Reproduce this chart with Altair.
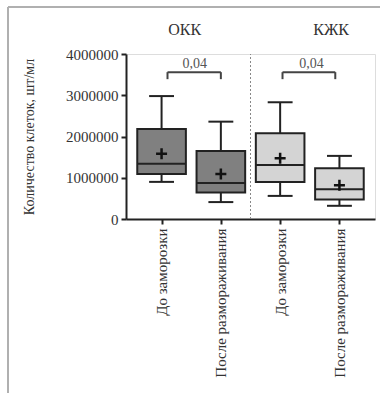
import altair as alt
import pandas as pd

# ---- data ----
positions = [1, 2, 3, 4]
x_labels = ["До заморозки", "После размораживания", "До заморозки", "После размораживания"]
groups = ["ОКК", "ОКК", "КЖК", "КЖК"]
whisker_low = [900000, 410000, 560000, 320000]
q1 = [1090000, 640000, 900000, 470000]
median = [1340000, 870000, 1310000, 720000]
q3 = [2180000, 1650000, 2080000, 1230000]
whisker_high = [2980000, 2360000, 2830000, 1530000]
means = [1580000, 1090000, 1470000, 820000]

group_names = ["ОКК", "КЖК"]
group_title_x = [1.39, 3.86]
group_title_y = [4580000, 4580000]

p_labels = ["0,04", "0,04"]
bracket_left = [1.1, 3.04]
bracket_right = [2.0, 3.93]
bracket_top = [3560000, 3560000]
bracket_bottom = [3390000, 3390000]
p_label_x = [1.56, 3.53]
p_label_y = [3760000, 3760000]

separator_x = [2.5]

BOX_HALF = 0.41
CAP_HALF = 0.21
FONT = "Liberation Serif"

boxes = pd.DataFrame({
    "pos": positions, "label": x_labels, "group": groups,
    "lo": whisker_low, "q1": q1, "med": median, "q3": q3, "hi": whisker_high, "mean": means,
})
boxes["bx1"] = boxes["pos"] - BOX_HALF
boxes["bx2"] = boxes["pos"] + BOX_HALF
boxes["cx1"] = boxes["pos"] - CAP_HALF
boxes["cx2"] = boxes["pos"] + CAP_HALF

titles = pd.DataFrame({"name": group_names, "x": group_title_x, "y": group_title_y})
brackets = pd.DataFrame({
    "label": p_labels, "l": bracket_left, "r": bracket_right,
    "top": bracket_top, "bot": bracket_bottom, "lx": p_label_x, "ly": p_label_y,
})
sep = pd.DataFrame({"x": separator_x, "y0": [0], "y1": [4000000]})

label_expr = ("datum.value == 1 ? 'До заморозки' : datum.value == 2 ? 'После размораживания' : "
              "datum.value == 3 ? 'До заморозки' : datum.value == 4 ? 'После размораживания' : ''")

xscale = alt.Scale(domain=[0.4, 4.6], nice=False, zero=False)
yscale = alt.Scale(domain=[0, 4000000], nice=False)

x_axis = alt.Axis(
    values=positions, labelExpr=label_expr, labelAngle=270, labelAlign="right",
    labelBaseline="middle", labelFont=FONT, labelFontSize=15, labelColor="#333333",
    labelPadding=4, tickSize=5, tickWidth=2, tickColor="#222222",
    domainWidth=2, domainColor="#222222", grid=False, title=None, labelOverlap=False,
)
y_axis = alt.Axis(
    values=[0, 1000000, 2000000, 3000000, 4000000], format="d",
    labelFont=FONT, labelFontSize=15, labelColor="#333333", labelPadding=3,
    tickSize=5, tickWidth=2, tickColor="#222222", domainWidth=2, domainColor="#222222",
    grid=False, title="Количество клеток, шт/мл", titleFont=FONT, titleFontSize=14,
    titleFontWeight="normal", titleColor="#333333", titleAngle=270, titleX=-97, titleY=82.5,
    titleAlign="center", titleBaseline="middle",
)

base = alt.Chart(boxes)

axes_layer = base.mark_point(opacity=0).encode(
    x=alt.X("pos:Q", scale=xscale, axis=x_axis),
    y=alt.Y("med:Q", scale=yscale, axis=y_axis),
)

whisk_up = base.mark_rule(color="#222222", strokeWidth=2).encode(
    x="pos:Q", y="q3:Q", y2="hi:Q")
whisk_down = base.mark_rule(color="#222222", strokeWidth=2).encode(
    x="pos:Q", y="lo:Q", y2="q1:Q")
cap_up = base.mark_rule(color="#222222", strokeWidth=2).encode(
    x="cx1:Q", x2="cx2:Q", y="hi:Q")
cap_down = base.mark_rule(color="#222222", strokeWidth=2).encode(
    x="cx1:Q", x2="cx2:Q", y="lo:Q")

box = base.mark_bar(stroke="#222222", strokeWidth=2).encode(
    x="bx1:Q", x2="bx2:Q", y="q1:Q", y2="q3:Q",
    fill=alt.Fill("group:N", scale=alt.Scale(domain=["ОКК", "КЖК"], range=["#808080", "#d4d4d4"]),
                  legend=None),
)
med_line = base.mark_rule(color="#222222", strokeWidth=2).encode(
    x="bx1:Q", x2="bx2:Q", y="med:Q")
mean_pt = base.mark_point(shape="M-1,0L1,0M0,-1L0,1", size=121, strokeWidth=2.5,
                          color="#111111", filled=False, opacity=1).encode(x="pos:Q", y="mean:Q")

separator = alt.Chart(sep).mark_rule(color="#888888", strokeWidth=1, strokeDash=[2, 2]).encode(
    x="x:Q", y="y0:Q", y2="y1:Q")

group_text = alt.Chart(titles).mark_text(font=FONT, fontSize=16, color="#333333",
                                         baseline="middle", align="center").encode(
    x="x:Q", y="y:Q", text="name:N")

bk = alt.Chart(brackets)
bracket_h = bk.mark_rule(color="#444444", strokeWidth=2).encode(x="l:Q", x2="r:Q", y="top:Q")
bracket_l = bk.mark_rule(color="#444444", strokeWidth=2).encode(x="l:Q", y="bot:Q", y2="top:Q")
bracket_r = bk.mark_rule(color="#444444", strokeWidth=2).encode(x="r:Q", y="bot:Q", y2="top:Q")
p_text = bk.mark_text(font=FONT, fontSize=14, color="#555555", baseline="middle").encode(
    x="lx:Q", y="ly:Q", text="label:N")

frame_left = alt.Chart(sep).mark_rule(color="#b0b0b0", strokeWidth=2).encode(
    x=alt.value(-118), y=alt.value(-47), y2=alt.value(339))
frame_top = alt.Chart(sep).mark_rule(color="#b0b0b0", strokeWidth=2).encode(
    x=alt.value(-118), x2=alt.value(254), y=alt.value(-47))

chart = alt.layer(
    axes_layer, separator, whisk_up, whisk_down, cap_up, cap_down, box, med_line, mean_pt,
    group_text, bracket_h, bracket_l, bracket_r, p_text, frame_left, frame_top,
).properties(
    width=249, height=165,
    autosize=alt.AutoSizeParams(type="none"),
    padding={"left": 126, "top": 54, "right": 5, "bottom": 174},
).configure_view(stroke=None).configure(background="white")

chart.save("out.html", embed_options={"renderer": "svg", "actions": False})
